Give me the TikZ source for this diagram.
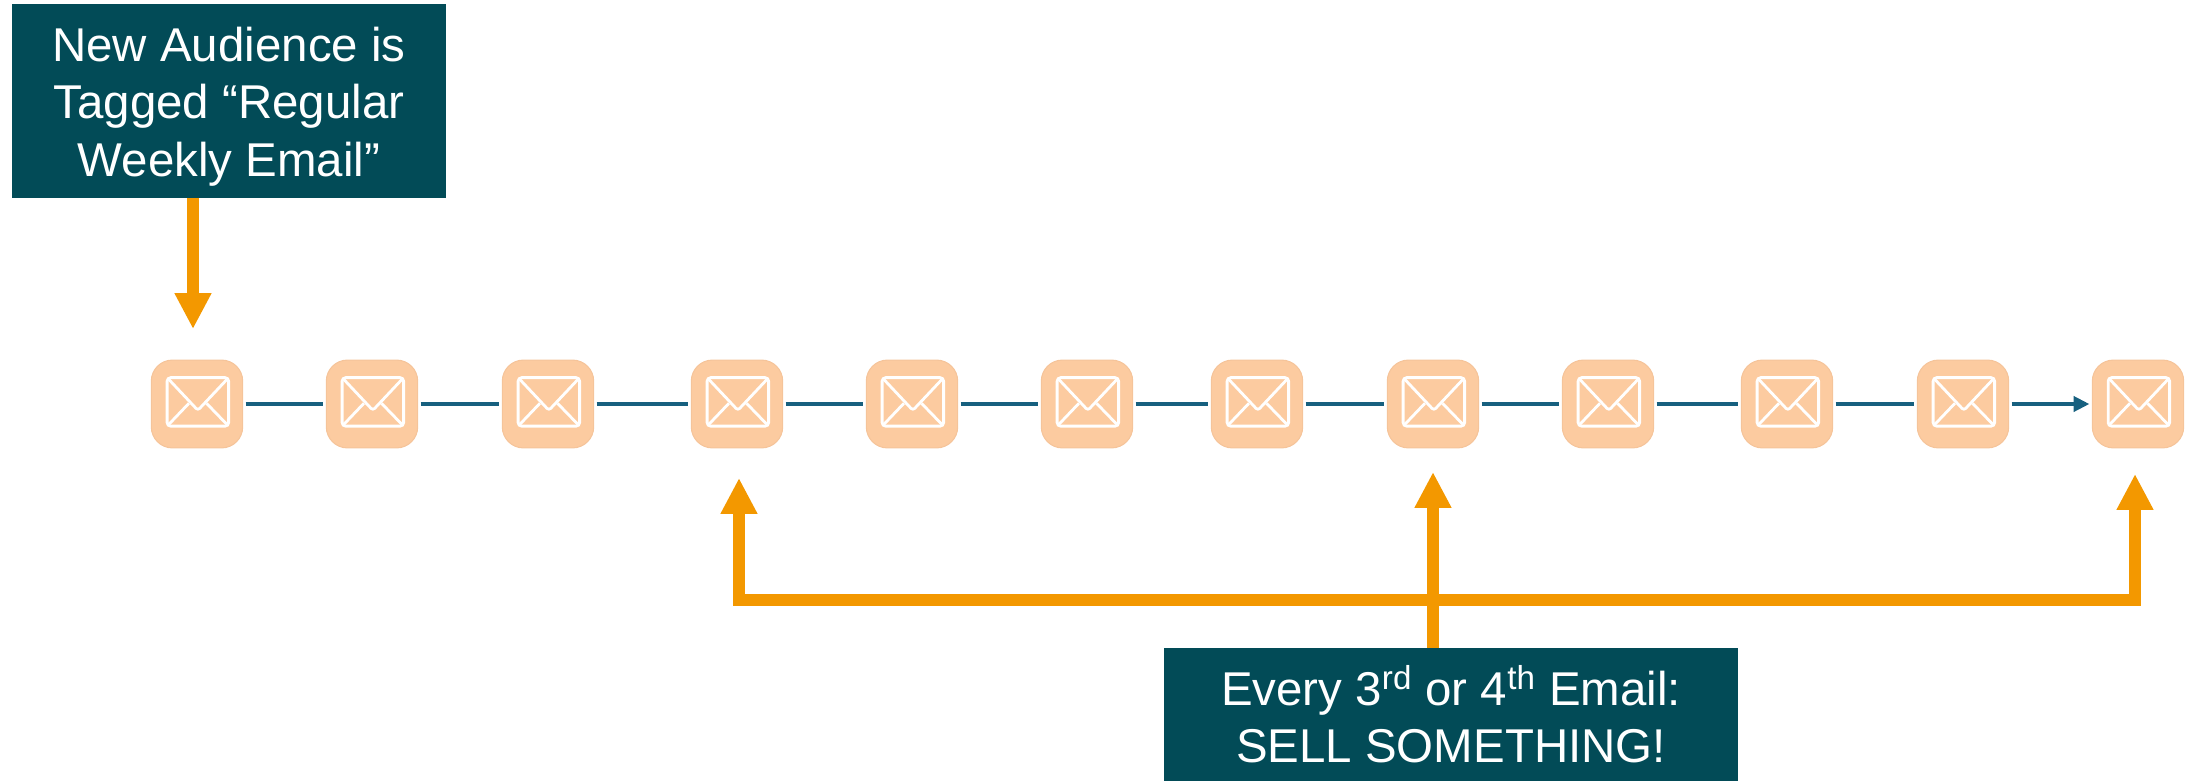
\documentclass[tikz,border=0pt]{standalone}
\usepackage{fontspec}
\setmainfont{Liberation Sans}
\usepackage{xcolor}
\usepackage{tikz}
\usetikzlibrary{arrows.meta, calc}

\definecolor{notefill}{HTML}{024B57}
\definecolor{pushorange}{HTML}{F39800}
\definecolor{mailfill}{HTML}{FCCBA0}
\definecolor{mailedge}{HTML}{F5C49A}
\definecolor{flowblue}{HTML}{17607F}

\tikzset{
    mailbox/.style={draw=mailedge, fill=mailfill, line width=0.6pt, rounded corners=12pt,
        minimum width=52pt, minimum height=50pt, inner sep=0pt, outer sep=1.7pt,
        path picture={
            \draw[white, line width=1.6pt, rounded corners=2pt]
                ($(path picture bounding box.center)+(-17pt,15pt)$) rectangle
                ($(path picture bounding box.center)+(18pt,-12.6pt)$);
            \draw[white, line width=1.6pt, rounded corners=1.5pt]
                ($(path picture bounding box.center)+(-16.6pt,14.6pt)$) --
                ($(path picture bounding box.center)+(0.5pt,-3.6pt)$) --
                ($(path picture bounding box.center)+(17.6pt,14.6pt)$);
            \draw[white, line width=1.6pt]
                ($(path picture bounding box.center)+(-16.6pt,-12.2pt)$) --
                ($(path picture bounding box.center)+(-4.6pt,0.4pt)$);
            \draw[white, line width=1.6pt]
                ($(path picture bounding box.center)+(5.4pt,0.4pt)$) --
                ($(path picture bounding box.center)+(17.6pt,-12.2pt)$);
        }},
    notebox/.style={fill=notefill, text=white, align=center, inner sep=0pt,
        font=\fontsize{27}{32.6}\selectfont},
    flowline/.style={draw=flowblue, line width=1.9pt},
    pushline/.style={draw=pushorange, line width=6.8pt},
    pusharrow/.style={pushline, -{Triangle[length=20.4pt, width=19.6pt]}}
}

\begin{document}
\begin{tikzpicture}[x=0.02cm, y=-0.02cm]
    \useasboundingbox (0,0) rectangle (2191,781);

    \node[mailbox] (mail1) at (197,404) {};
    \node[mailbox] (mail2) at (372,404) {};
    \node[mailbox] (mail3) at (548,404) {};
    \node[mailbox] (mail4) at (737,404) {};
    \node[mailbox] (mail5) at (912,404) {};
    \node[mailbox] (mail6) at (1087,404) {};
    \node[mailbox] (mail7) at (1257,404) {};
    \node[mailbox] (mail8) at (1433,404) {};
    \node[mailbox] (mail9) at (1608,404) {};
    \node[mailbox] (mail10) at (1787,404) {};
    \node[mailbox] (mail11) at (1963,404) {};
    \node[mailbox] (mail12) at (2138,404) {};

    \draw[flowline] (mail1) -- (mail2);
    \draw[flowline] (mail2) -- (mail3);
    \draw[flowline] (mail3) -- (mail4);
    \draw[flowline] (mail4) -- (mail5);
    \draw[flowline] (mail5) -- (mail6);
    \draw[flowline] (mail6) -- (mail7);
    \draw[flowline] (mail7) -- (mail8);
    \draw[flowline] (mail8) -- (mail9);
    \draw[flowline] (mail9) -- (mail10);
    \draw[flowline] (mail10) -- (mail11);
    \draw[flowline, -{Triangle[length=9pt, width=8.7pt]}] (mail11) -- (mail12);

    \node[notebox, minimum width=247.2pt, minimum height=110pt] (newnote) at (229,101)
        {\rule{0pt}{26pt}New Audience is\\Tagged “Regular\\Weekly Email”};
    \node[notebox, minimum width=326.5pt, minimum height=75.4pt] (sellnote) at (1451,714.5)
        {\rule{0pt}{20pt}Every 3\textsuperscript{rd} or 4\textsuperscript{th} Email:\\SELL SOMETHING!};

    \coordinate (newtip) at (193,329);
    \coordinate (selltip4) at (739,478);
    \coordinate (selltip8) at (1433,472);
    \coordinate (selltip12) at (2135,474);
    \coordinate (sellbar4) at (739,600);
    \coordinate (sellbar12) at (2135,600);

    \draw[pusharrow] (newtip |- newnote.south) -- (newtip);
    \draw[pushline, line cap=rect] (sellbar4) -- (sellbar12);
    \draw[pusharrow] (sellbar4) -- (selltip4);
    \draw[pusharrow] (sellbar12) -- (selltip12);
    \draw[pusharrow] (selltip8 |- sellnote.north) -- (selltip8);
\end{tikzpicture}
\end{document}
